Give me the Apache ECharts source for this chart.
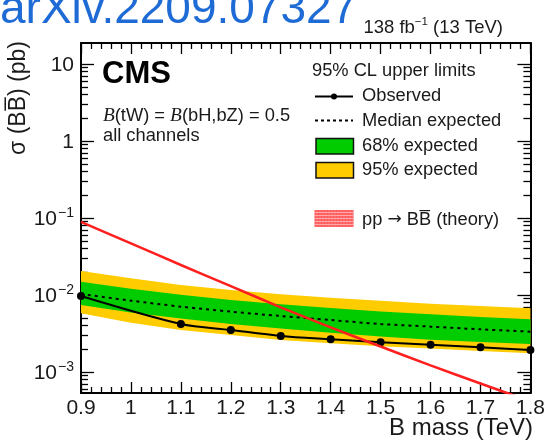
<!DOCTYPE html>
<html>
<head>
<meta charset="utf-8">
<script src="https://cdn.jsdelivr.net/npm/echarts@6/dist/echarts.min.js"></script>
<style>
html,body{margin:0;padding:0;background:#fff;}
#chart{width:548px;height:441px;}
</style>
</head>
<body>
<div id="chart"></div>
<script>
// B-quark partner pair production: 95% CL upper limits vs. mass
const massPoints     = [0.9, 1.0, 1.1, 1.2, 1.3, 1.4, 1.5, 1.6, 1.7, 1.8];
const observedMass   = [0.9, 1.1, 1.2, 1.3, 1.4, 1.5, 1.6, 1.7, 1.8];
const observedLimit  = [0.0097, 0.0042, 0.00351, 0.00294, 0.00266, 0.00243, 0.00225, 0.00209, 0.00193];
const expectedMedian = [0.0103, 0.00844, 0.00705, 0.00608, 0.00533, 0.00473, 0.0042, 0.00388, 0.00358, 0.00334];
const expected68Low  = [0.00741, 0.0059, 0.00493, 0.0042, 0.00366, 0.00324, 0.00288, 0.00263, 0.00245, 0.00231];
const expected68High = [0.01489, 0.01208, 0.01009, 0.00861, 0.00757, 0.00678, 0.00608, 0.00561, 0.00518, 0.00483];
const expected95Low  = [0.00578, 0.00437, 0.00351, 0.00303, 0.00261, 0.00236, 0.00215, 0.00201, 0.00187, 0.00175];
const expected95High = [0.0205, 0.01644, 0.01349, 0.01161, 0.0102, 0.00923, 0.00844, 0.00771, 0.0072, 0.00672];
const theoryXsec     = [0.0891, 0.0468, 0.0245, 0.01303, 0.00692, 0.0038, 0.00214, 0.00122, 0.000708, 0.000417];

// axis ranges and tick labels
const xRange = [0.9, 1.8];
const yRange = [5.33e-4, 18.75];
const yTickValues = [1e-3, 1e-2, 1e-1, 1, 10];
const yTickLabels = ['{b|10}{s|\u22123}', '{b|10}{s|\u22122}', '{b|10}{s|\u22121}', '{b|1}', '{b|10}'];

// minor log ticks 2..9 x 10^k inside the y range
const yMinorTicks = [];
for (let k = -4; k <= 1; k++) {
  for (let j = 2; j <= 9; j++) {
    const v = j * Math.pow(10, k);
    if (v > yRange[0] && v < yRange[1]) yMinorTicks.push(v);
  }
}

const SANS = '"Liberation Sans", Arial, Helvetica, sans-serif';
const SERIF = '"Liberation Serif", "Times New Roman", serif';
const INK = '#1a1a1a';
const frame = { color: '#000', width: 2 };
const tickLine = { color: '#000', width: 1.3 };
const LEG_FONT = '18.3px ' + SANS;

function bandSeries(name, lo, hi, color, z) {
  return {
    type: 'custom',
    name: name,
    z: z,
    silent: true,
    clip: true,
    encode: { x: 0, y: [1, 2] },
    data: massPoints.map((m, i) => [m, lo[i], hi[i]]),
    renderItem: function (params, api) {
      if (params.dataIndex !== 0) return null;
      const pts = [];
      for (let i = 0; i < massPoints.length; i++) pts.push(api.coord([massPoints[i], hi[i]]));
      for (let i = massPoints.length - 1; i >= 0; i--) pts.push(api.coord([massPoints[i], lo[i]]));
      return { type: 'polygon', shape: { points: pts }, style: { fill: color } };
    }
  };
}

function xAxisDef(pos, showLabel) {
  return {
    type: 'value', position: pos, min: xRange[0], max: xRange[1], interval: 0.1,
    axisLine: { show: true, onZero: false, lineStyle: frame },
    axisTick: { show: true, inside: true, length: 11, lineStyle: tickLine },
    minorTick: { show: true, splitNumber: 5, length: 6, lineStyle: tickLine },
    axisLabel: { show: showLabel, fontSize: 21, color: INK, fontFamily: SANS, margin: 5 },
    splitLine: { show: false }, minorSplitLine: { show: false }
  };
}

function yAxisDef(pos, major) {
  return {
    type: 'log', logBase: 10, position: pos, min: yRange[0], max: yRange[1],
    axisLine: { show: major, onZero: false, lineStyle: frame },
    axisTick: { show: true, inside: true, length: major ? 13 : 7, lineStyle: tickLine,
                customValues: major ? yTickValues : yMinorTicks },
    axisLabel: (major && pos === 'left') ? {
      show: true, customValues: yTickValues, margin: 7, color: INK, fontFamily: SANS,
      formatter: function (v) {
        const idx = yTickValues.findIndex(t => Math.abs(Math.log10(t) - Math.log10(v)) < 1e-6);
        return idx >= 0 ? yTickLabels[idx] : '';
      },
      rich: {
        b: { fontSize: 21, fontFamily: SANS, color: INK, lineHeight: 24, verticalAlign: 'bottom' },
        s: { fontSize: 14, fontFamily: SANS, color: INK, lineHeight: 14, verticalAlign: 'top', padding: [0, 0, 0, 1] }
      }
    } : { show: false },
    splitLine: { show: false }
  };
}

const chart = echarts.init(document.getElementById('chart'), null, { renderer: 'canvas' });

const legendX0 = 315, legendX1 = 353;

// hatched fill of the theory legend box
const hatch = [];
for (let y = 212.5; y < 227; y += 3) {
  hatch.push({ type: 'line', z: 101, shape: { x1: 314.5, y1: y, x2: 353.5, y2: y }, style: { stroke: '#ffc0c0', lineWidth: 0.8 } });
}
for (let x = 317; x < 353.5; x += 3) {
  hatch.push({ type: 'line', z: 101, shape: { x1: x, y1: 210, x2: x, y2: 227 }, style: { stroke: '#ff9a9a', lineWidth: 0.6 } });
}

chart.setOption({
  animation: false,
  backgroundColor: '#fff',
  grid: { left: 81, top: 43, width: 451, height: 350, containLabel: false },
  xAxis: [xAxisDef('bottom', true), xAxisDef('top', false)],
  yAxis: [yAxisDef('left', true), yAxisDef('left', false), yAxisDef('right', true), yAxisDef('right', false)],
  series: [
    bandSeries('95% expected', expected95Low, expected95High, '#ffcc00', 1),
    bandSeries('68% expected', expected68Low, expected68High, '#00cc00', 2),
    {
      type: 'line', name: 'Median expected', z: 3,
      data: massPoints.map((m, i) => [m, expectedMedian[i]]),
      symbol: 'none', smooth: 0.3,
      lineStyle: { color: '#000', width: 2, type: [3, 4] }
    },
    {
      type: 'line', name: 'Observed', z: 4,
      data: observedMass.map((m, i) => [m, observedLimit[i]]),
      symbol: 'circle', symbolSize: 8, smooth: 0.3,
      itemStyle: { color: '#000' },
      lineStyle: { color: '#000', width: 2 }
    },
    {
      type: 'line', name: 'pp \u2192 BB\u0305 (theory)', z: 5, clip: true,
      data: massPoints.map((m, i) => [m, theoryXsec[i]]),
      symbol: 'none', smooth: 0.3,
      lineStyle: { color: '#ff1f1f', width: 2.5 }
    }
  ],
  graphic: [
    // header
    { type: 'text', x: 0, y: 10, z: 100,
      style: { text: 'arXiv.2209.07327', font: '46px ' + SANS, fill: '#1f6bd6', align: 'left', verticalAlign: 'middle' } },
    { type: 'text', x: 503, y: 26.5, z: 100,
      style: { text: '{n|138 fb}{s|\u22121}{n| (13 TeV)}', align: 'right', verticalAlign: 'middle',
        rich: { n: { fontSize: 18.5, fontFamily: SANS, fill: INK, lineHeight: 21, verticalAlign: 'bottom' },
                s: { fontSize: 11.5, fontFamily: SANS, fill: INK, lineHeight: 11, verticalAlign: 'top' } } } },
    // y axis title
    { type: 'text', x: 18.6, y: 41, rotation: Math.PI / 2, z: 100,
      style: { text: '\u03c3 (BB\u0305) (pb)', font: '23px ' + SANS, fill: INK, align: 'right', verticalAlign: 'middle' } },
    // x axis title
    { type: 'text', x: 533, y: 428, z: 100,
      style: { text: 'B mass (TeV)', font: '24px ' + SANS, fill: INK, align: 'right', verticalAlign: 'middle' } },
    // CMS label and model text
    { type: 'text', x: 102, y: 74, z: 100,
      style: { text: 'CMS', font: 'bold 31px ' + SANS, fill: '#000', align: 'left', verticalAlign: 'middle' } },
    { type: 'text', x: 103, y: 116, z: 100,
      style: { text: '{i|B}{n|(tW) = }{i|B}{n|(bH,bZ) = 0.5}', align: 'left', verticalAlign: 'middle',
        rich: { i: { fontFamily: SERIF, fontStyle: 'italic', fontSize: 19.3, fill: INK },
                n: { fontFamily: SANS, fontSize: 18.3, fill: INK } } } },
    { type: 'text', x: 103, y: 136, z: 100,
      style: { text: 'all channels', font: '18.3px ' + SANS, fill: INK, align: 'left', verticalAlign: 'middle' } },
    // legend
    { type: 'text', x: 312, y: 71, z: 100,
      style: { text: '95% CL upper limits', font: LEG_FONT, fill: INK, align: 'left', verticalAlign: 'middle' } },
    { type: 'line', z: 100, shape: { x1: legendX0, y1: 96.5, x2: legendX1, y2: 96.5 }, style: { stroke: '#000', lineWidth: 2 } },
    { type: 'circle', z: 101, shape: { cx: 334, cy: 96.5, r: 3 }, style: { fill: '#000' } },
    { type: 'text', x: 362, y: 96, z: 100,
      style: { text: 'Observed', font: LEG_FONT, fill: INK, align: 'left', verticalAlign: 'middle' } },
    { type: 'line', z: 100, shape: { x1: legendX0, y1: 120.5, x2: legendX1, y2: 120.5 }, style: { stroke: '#000', lineWidth: 2, lineDash: [3, 3] } },
    { type: 'text', x: 362, y: 121, z: 100,
      style: { text: 'Median expected', font: LEG_FONT, fill: INK, align: 'left', verticalAlign: 'middle' } },
    { type: 'rect', z: 100, shape: { x: 316, y: 138.5, width: 37.5, height: 15.5 }, style: { fill: '#00cc00', stroke: '#111', lineWidth: 1.5 } },
    { type: 'text', x: 362, y: 145.5, z: 100,
      style: { text: '68% expected', font: LEG_FONT, fill: INK, align: 'left', verticalAlign: 'middle' } },
    { type: 'rect', z: 100, shape: { x: 316, y: 162.5, width: 37.5, height: 15.5 }, style: { fill: '#ffcc00', stroke: '#111', lineWidth: 1.5 } },
    { type: 'text', x: 362, y: 169.5, z: 100,
      style: { text: '95% expected', font: LEG_FONT, fill: INK, align: 'left', verticalAlign: 'middle' } },
    { type: 'rect', z: 100, shape: { x: 314.5, y: 210, width: 39, height: 17 }, style: { fill: '#ff3a3a', opacity: 0.85 } },
    ...hatch,
    { type: 'text', x: 362, y: 219.5, z: 100,
      style: { text: '{n|pp }{a|\u2192}{n| BB\u0305 (theory)}', align: 'left', verticalAlign: 'middle',
        rich: { n: { fontFamily: SANS, fontSize: 18.3, fill: INK },
                a: { fontFamily: '"DejaVu Sans", sans-serif', fontSize: 17, fill: INK } } } }
  ]
});
</script>
</body>
</html>
